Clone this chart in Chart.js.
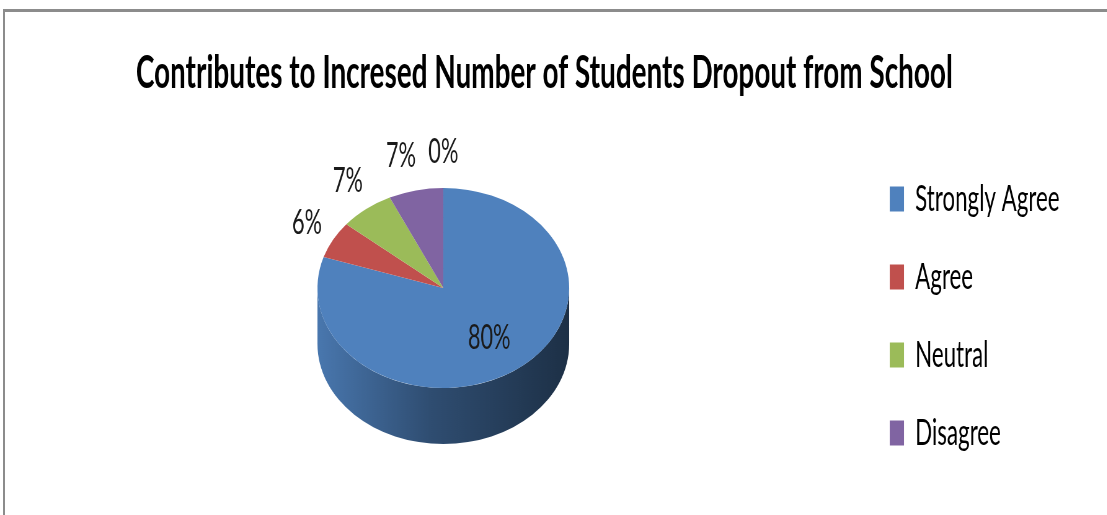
<!DOCTYPE html>
<html>
<head>
<meta charset="utf-8">
<title>Students Dropout</title>
<script src="https://cdn.jsdelivr.net/npm/chart.js@4"></script>
<style>
  html, body { margin: 0; padding: 0; background: #fff; overflow: hidden; }
  #frame {
    position: absolute; left: 3px; top: 9px; width: 1200px; height: 600px;
    border-top: 3px solid #8c8c8c; border-left: 2px solid #8c8c8c;
  }
  /* chart is laid out wide and squeezed horizontally */
  #wrap {
    position: absolute; left: 0; top: 0; width: 1786px; height: 515px;
    transform: scaleX(0.62); transform-origin: 0 0;
  }
</style>
</head>
<body>
<div id="frame"></div>
<div id="wrap"><canvas id="chart"></canvas></div>
<script>
const categories = ['Strongly Agree', 'Agree', 'Neutral', 'Disagree', ''];
const shares = [80, 6, 7, 7, 0];
const sliceColors = ['#4F81BD', '#C0504D', '#9BBB59', '#8064A2', '#4BACC6'];

const TILT = 0.4926;  // top face squash
const DEPTH = 56;     // pie thickness
const FONT = 'Lato, "Open Sans", sans-serif';

function shade(hex, f) {
  const n = parseInt(hex.slice(1), 16);
  const r = Math.round(((n >> 16) & 255) * f);
  const g = Math.round(((n >> 8) & 255) * f);
  const b = Math.round((n & 255) * f);
  return 'rgb(' + r + ',' + g + ',' + b + ')';
}

// draws the side wall, tilts the top face, then puts the percentage labels on
const pie3d = {
  id: 'pie3d',
  beforeDatasetsDraw(chart) {
    const ctx = chart.ctx;
    const arcs = chart.getDatasetMeta(0).data;
    const { x, y, outerRadius: r } = arcs[0];
    const top = y - DEPTH / 2;

    arcs.forEach((arc, i) => {
      [0, 2 * Math.PI].forEach(shift => {
        const a = Math.max(arc.startAngle, shift);
        const b = Math.min(arc.endAngle, shift + Math.PI);
        if (b <= a) return;
        const grad = ctx.createLinearGradient(x - r, 0, x + r, 0);
        grad.addColorStop(0, shade(sliceColors[i], 0.92));
        grad.addColorStop(0.45, shade(sliceColors[i], 0.6));
        grad.addColorStop(1, shade(sliceColors[i], 0.37));
        ctx.beginPath();
        ctx.ellipse(x, top, r, r * TILT, 0, a, b);
        ctx.ellipse(x, top + DEPTH, r, r * TILT, 0, b, a, true);
        ctx.closePath();
        ctx.fillStyle = grad;
        ctx.fill();
      });
    });

    ctx.save();
    ctx.translate(x, top);
    ctx.scale(1, TILT);
    ctx.translate(-x, -y);
  },
  afterDatasetsDraw(chart) {
    const ctx = chart.ctx;
    ctx.restore();
    const arcs = chart.getDatasetMeta(0).data;
    ctx.save();
    ctx.font = '35px ' + FONT;
    ctx.fillStyle = '#1a1a1a';
    ctx.textAlign = 'center';
    ctx.textBaseline = 'middle';

    const labels = arcs.map((arc, i) => {
      const { x, y, outerRadius: r } = arc;
      const top = y - DEPTH / 2;
      const mid = (arc.startAngle + arc.endAngle) / 2;
      const c = Math.cos(mid), s = Math.sin(mid);
      const text = shares[i] + '%';
      const w = ctx.measureText(text).width;
      if (shares[i] >= 20) {
        return { text, w, inside: true, x: x + c * r * 0.62, y: top + s * r * TILT * 0.62 };
      }
      return { text, w, inside: false, x: x + c * r + c * 48, y: top + s * r * TILT + s * 36 };
    });

    // push outside labels apart when they run into the next one
    for (let i = labels.length - 2; i >= 0; i--) {
      const a = labels[i], b = labels[i + 1];
      if (a.inside || b.inside || Math.abs(a.y - b.y) > 30) continue;
      const limit = b.x - b.w / 2 - 20;
      if (a.x + a.w / 2 > limit) a.x = limit - a.w / 2;
    }

    labels.forEach(l => ctx.fillText(l.text, l.x, l.y));
    ctx.restore();
  }
};

new Chart(document.getElementById('chart'), {
  type: 'pie',
  data: {
    labels: categories,
    datasets: [{
      data: shares,
      backgroundColor: sliceColors,
      borderWidth: 0,
      radius: 203,
      clip: false
    }]
  },
  options: {
    responsive: true,
    maintainAspectRatio: false,
    animation: false,
    events: [],
    layout: { padding: { left: 37, right: 67 } },
    plugins: {
      title: {
        display: true,
        text: 'Contributes to Incresed Number of Students Dropout from School',
        color: '#000',
        font: { family: FONT, size: 45, weight: 'bold' },
        padding: { top: 46, bottom: 17 }
      },
      legend: {
        position: 'right',
        fullSize: false,
        labels: {
          boxWidth: 23,
          boxHeight: 25,
          padding: 42,
          color: '#000',
          font: { family: FONT, size: 36 },
          filter: item => item.text !== ''
        }
      },
      tooltip: { enabled: false }
    }
  },
  plugins: [pie3d]
});
</script>
</body>
</html>
